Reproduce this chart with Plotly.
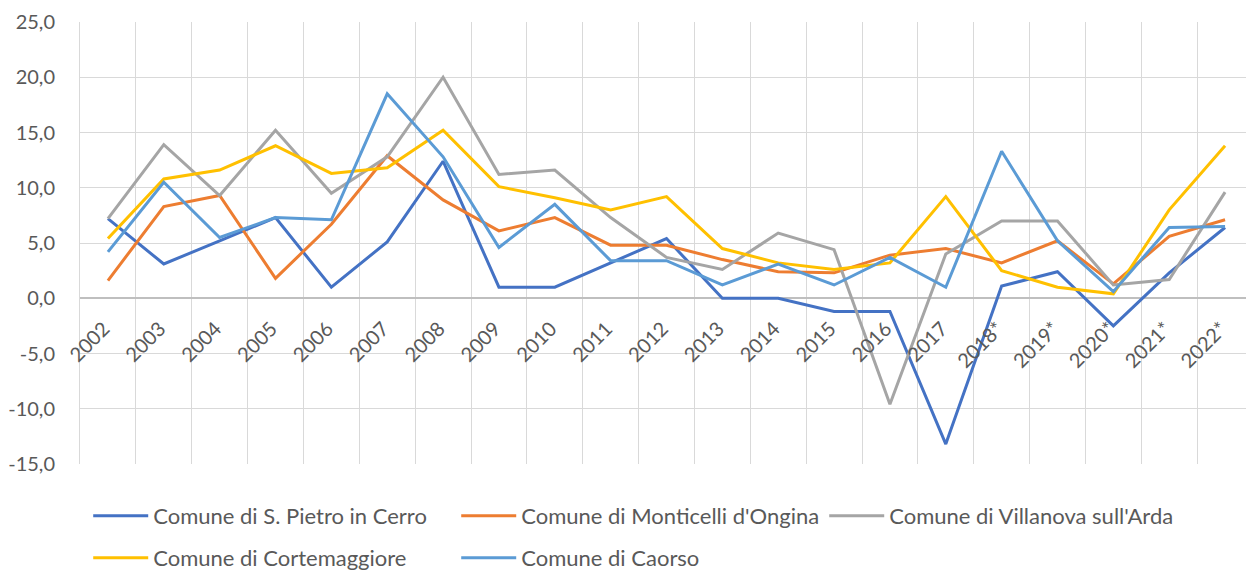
import plotly.graph_objects as go

years = ["2002", "2003", "2004", "2005", "2006", "2007", "2008", "2009", "2010", "2011",
         "2012", "2013", "2014", "2015", "2016", "2017", "2018*", "2019*", "2020*", "2021*", "2022*"]

s_pietro = [7.2, 3.1, 5.2, 7.3, 1.0, 5.1, 12.4, 1.0, 1.0, 3.2, 5.4, 0.0, 0.0, -1.2, -1.2, -13.2, 1.1, 2.4, -2.5, 2.3, 6.4]
monticelli = [1.6, 8.3, 9.3, 1.8, 6.7, 12.9, 8.9, 6.1, 7.3, 4.8, 4.8, 3.5, 2.4, 2.3, 3.9, 4.5, 3.2, 5.2, 1.3, 5.6, 7.1]
villanova = [7.2, 13.9, 9.3, 15.2, 9.5, 12.8, 20.0, 11.2, 11.6, 7.3, 3.7, 2.6, 5.9, 4.4, -9.6, 4.0, 7.0, 7.0, 1.2, 1.7, 9.6]
cortemaggiore = [5.4, 10.8, 11.6, 13.8, 11.3, 11.8, 15.2, 10.1, 9.1, 8.0, 9.2, 4.5, 3.2, 2.6, 3.2, 9.2, 2.5, 1.0, 0.4, 8.0, 13.8]
caorso = [4.2, 10.5, 5.5, 7.3, 7.1, 18.5, 12.8, 4.6, 8.5, 3.4, 3.4, 1.2, 3.1, 1.2, 3.7, 1.0, 13.3, 5.2, 0.6, 6.4, 6.5]

series_names = ["Comune di S. Pietro in Cerro", "Comune di Monticelli d'Ongina",
                "Comune di Villanova sull'Arda", "Comune di Cortemaggiore", "Comune di Caorso"]
series_values = [s_pietro, monticelli, villanova, cortemaggiore, caorso]
colors = ["#4472C4", "#ED7D31", "#A5A5A5", "#FFC000", "#5B9BD5"]
legend_ids = ["legend", "legend", "legend", "legend2", "legend2"]

y_ticks = [-15, -10, -5, 0, 5, 10, 15, 20, 25]
y_tick_text = ["-15,0", "-10,0", "-5,0", "0,0", "5,0", "10,0", "15,0", "20,0", "25,0"]

FONT = "Lato"
TXT = "#595959"

fig = go.Figure()
for name, vals, col, lg in zip(series_names, series_values, colors, legend_ids):
    fig.add_trace(go.Scatter(x=years, y=vals, mode="lines", name=name,
                             line=dict(color=col, width=3), legend=lg))

leg_common = dict(orientation="h", xanchor="left", yanchor="middle",
                  font=dict(family=FONT, size=22, color=TXT),
                  entrywidth=298, entrywidthmode="pixels",
                  bgcolor="rgba(0,0,0,0)", itemwidth=55)

# body has an 8px default margin: figure is shrunk and margins shifted to compensate
fig.update_layout(
    width=1246, height=563,
    margin=dict(l=72, r=1, t=14, b=107, autoexpand=False),
    paper_bgcolor="white", plot_bgcolor="white",
    font=dict(family=FONT, size=20, color=TXT),
    legend=dict(x=0.007, y=-0.1176, **leg_common),
    legend2=dict(x=0.007, y=-0.2127, **leg_common),
    xaxis=dict(type="category", range=[-0.5, 20.5], anchor="free", position=0.375,
               tickson="boundaries", showgrid=True, gridcolor="#D9D9D9", gridwidth=1,
               ticks="", tickangle=-45, showline=False, zeroline=False,
               ticklabelstandoff=14, ticklabelshift=-4,
               tickfont=dict(family=FONT, size=20, color=TXT)),
    yaxis=dict(range=[-15, 25], tickvals=y_ticks, ticktext=y_tick_text,
               showgrid=True, gridcolor="#D9D9D9", gridwidth=1,
               zeroline=True, zerolinecolor="#BFBFBF", zerolinewidth=1.5,
               ticks="", ticklabelstandoff=20,
               showline=True, linecolor="#D9D9D9", linewidth=1, mirror=True,
               tickfont=dict(family=FONT, size=20, color=TXT)),
)

fig.write_html("out.html")
